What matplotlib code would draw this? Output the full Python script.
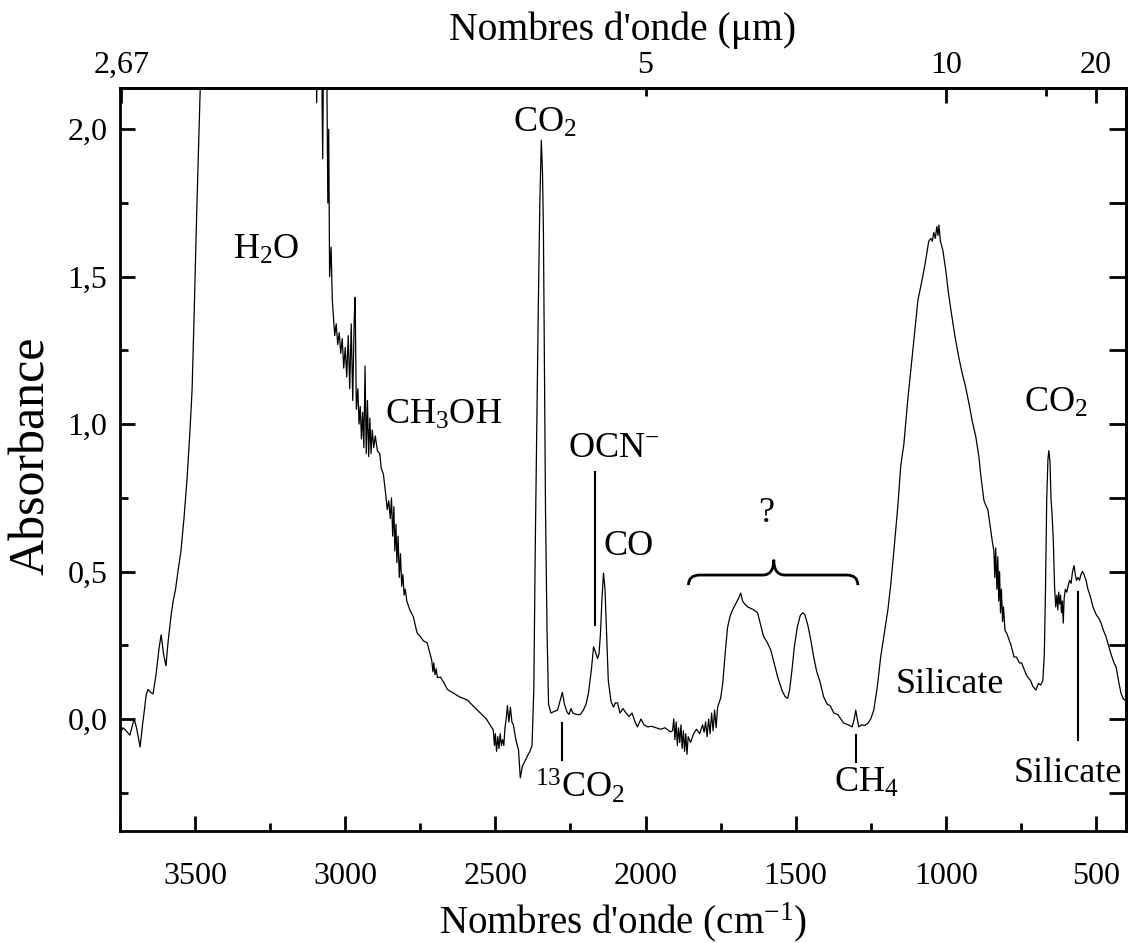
import numpy as np
import matplotlib
matplotlib.use("Agg")  # no display
import matplotlib.pyplot as plt
from matplotlib.path import Path
from matplotlib.patches import PathPatch
from matplotlib.ticker import MultipleLocator, FuncFormatter

plt.rcParams['font.family'] = 'Liberation Serif'
plt.rcParams['mathtext.default'] = 'regular'

# --- spectrum (cm-1, absorbance) ---
wavenumber = [
    3750, 3740, 3730, 3717, 3708, 3703, 3695, 3683, 3675, 3670, 3663, 3657, 3648, 3640, 3630, 3620,
    3613, 3605, 3597, 3590, 3580, 3573, 3565, 3557, 3547, 3537, 3527, 3518, 3510, 3503, 3495, 3483,
    3470, 3400, 3250, 3120, 3100, 3095, 3092, 3080, 3075, 3072, 3062, 3058, 3055, 3052, 3047, 3043,
    3040, 3035, 3030, 3025, 3020, 3015, 3010, 3005, 3000, 2995, 2990, 2985, 2980, 2975, 2970, 2967,
    2963, 2958, 2954, 2950, 2946, 2942, 2938, 2934, 2930, 2926, 2922, 2918, 2914, 2910, 2905, 2900,
    2893, 2885, 2880, 2873, 2865, 2860, 2855, 2850, 2846, 2842, 2838, 2835, 2831, 2828, 2824, 2820,
    2816, 2812, 2808, 2804, 2800, 2795, 2785, 2773, 2765, 2760, 2750, 2740, 2727, 2720, 2712, 2708,
    2705, 2701, 2697, 2693, 2683, 2670, 2660, 2640, 2620, 2593, 2570, 2550, 2530, 2515, 2507, 2503,
    2500, 2496, 2492, 2488, 2484, 2480, 2476, 2472, 2468, 2464, 2460, 2455, 2450, 2445, 2440, 2432,
    2423, 2417, 2410, 2400, 2393, 2385, 2378, 2372, 2367, 2362, 2357, 2352, 2347, 2343, 2340, 2337,
    2333, 2328, 2323, 2315, 2305, 2293, 2285, 2277, 2270, 2262, 2255, 2248, 2242, 2230, 2217, 2207,
    2198, 2190, 2180, 2173, 2166, 2160, 2155, 2150, 2145, 2140, 2135, 2130, 2124, 2115, 2107, 2100,
    2093, 2085, 2075, 2065, 2055, 2045, 2035, 2027, 2015, 2005, 1993, 1980, 1965, 1950, 1935, 1917,
    1910, 1906, 1902, 1898, 1894, 1890, 1886, 1882, 1878, 1874, 1870, 1866, 1862, 1858, 1850, 1840,
    1830, 1820, 1810, 1805, 1800, 1795, 1790, 1785, 1780, 1775, 1770, 1765, 1760, 1750, 1743, 1735,
    1727, 1718, 1710, 1700, 1690, 1683, 1677, 1670, 1660, 1650, 1640, 1627, 1617, 1607, 1595, 1583,
    1572, 1560, 1545, 1535, 1527, 1520, 1512, 1505, 1495, 1485, 1477, 1470, 1460, 1450, 1440, 1430,
    1420, 1407, 1395, 1385, 1373, 1360, 1350, 1340, 1325, 1312, 1305, 1300, 1295, 1290, 1280, 1270,
    1260, 1250, 1240, 1228, 1217, 1205, 1193, 1183, 1173, 1160, 1150, 1140, 1127, 1110, 1093, 1085,
    1077, 1068, 1057, 1050, 1045, 1040, 1035, 1030, 1026, 1023, 1018, 1010, 1000, 992, 983, 970,
    957, 945, 935, 923, 912, 900, 890, 883, 873, 865, 860, 852, 845, 840, 837, 834,
    830, 827, 824, 821, 818, 815, 811, 808, 803, 797, 790, 783, 773, 765, 755, 748,
    740, 732, 727, 718, 710, 700, 692, 684, 677, 672, 668, 664, 660, 657, 653, 650,
    646, 642, 638, 634, 630, 627, 624, 621, 618, 615, 612, 609, 606, 602, 597, 593,
    588, 583, 578, 573, 569, 565, 560, 555, 550, 545, 540, 533, 527, 520, 510, 500,
    490, 483, 475, 467, 457, 450, 440, 433, 425, 417, 410, 405, 400,
]
absorbance = [
    -0.05, -0.03, -0.04, -0.055, -0.02, 0.0, -0.03, -0.095, -0.02, 0.02, 0.08, 0.10, 0.09, 0.085, 0.15, 0.24,
    0.285, 0.22, 0.18, 0.26, 0.35, 0.40, 0.44, 0.50, 0.57, 0.68, 0.81, 0.96, 1.115, 1.376, 1.70, 2.14,
    2.60, 3.00, 3.20, 3.00, 2.40, 2.09, 2.35, 2.40, 1.90, 2.30, 2.30, 1.75, 2.00, 1.50, 1.60, 1.42,
    1.376, 1.30, 1.34, 1.27, 1.31, 1.24, 1.29, 1.19, 1.26, 1.16, 1.30, 1.12, 1.34, 1.08, 1.36, 1.43,
    1.05, 1.12, 1.00, 1.06, 0.95, 1.04, 0.92, 1.197, 0.90, 1.08, 0.89, 1.02, 0.90, 0.98, 0.92, 0.96,
    0.91, 0.90, 0.85, 0.83, 0.76, 0.71, 0.74, 0.68, 0.75, 0.62, 0.72, 0.57, 0.66, 0.53, 0.62, 0.48,
    0.56, 0.45, 0.49, 0.42, 0.44, 0.40, 0.37, 0.346, 0.31, 0.29, 0.28, 0.265, 0.258, 0.23, 0.20, 0.16,
    0.19, 0.15, 0.17, 0.14, 0.142, 0.12, 0.10, 0.088, 0.075, 0.064, 0.04, 0.02, 0.0, -0.025, -0.037, -0.09,
    -0.05, -0.11, -0.06, -0.10, -0.05, -0.09, -0.07, -0.09, -0.03, 0.0, 0.045, -0.01, 0.04, -0.01, -0.02, -0.07,
    -0.105, -0.20, -0.16, -0.14, -0.125, -0.11, -0.09, 0.10, 0.60, 1.00, 1.40, 1.75, 1.963, 1.85, 1.65, 1.25,
    0.70, 0.30, 0.05, 0.02, 0.025, 0.03, 0.06, 0.09, 0.05, 0.025, 0.015, 0.035, 0.02, 0.015, 0.015, 0.03,
    0.05, 0.088, 0.17, 0.245, 0.225, 0.205, 0.22, 0.29, 0.41, 0.495, 0.44, 0.30, 0.13, 0.06, 0.04, 0.055,
    0.054, 0.02, 0.035, 0.02, 0.008, 0.02, -0.01, -0.027, 0.0, -0.02, -0.027, -0.025, -0.03, -0.035, -0.03, -0.044,
    -0.04, 0.0, -0.07, -0.01, -0.09, -0.03, -0.08, -0.02, -0.10, -0.04, -0.11, -0.05, -0.12, -0.06, -0.08, -0.05,
    -0.035, -0.05, -0.02, -0.045, -0.01, -0.06, 0.0, -0.05, 0.02, -0.04, 0.03, -0.03, 0.04, 0.07, 0.12, 0.22,
    0.31, 0.35, 0.37, 0.39, 0.41, 0.427, 0.40, 0.39, 0.38, 0.375, 0.37, 0.36, 0.32, 0.28, 0.26, 0.234,
    0.19, 0.142, 0.095, 0.075, 0.07, 0.10, 0.17, 0.24, 0.31, 0.35, 0.36, 0.355, 0.32, 0.27, 0.21, 0.16,
    0.13, 0.075, 0.05, 0.045, 0.02, 0.015, 0.0, -0.014, -0.02, -0.027, 0.0, 0.03, 0.0, -0.027, -0.02, -0.022,
    -0.015, 0.0, 0.03, 0.11, 0.21, 0.29, 0.37, 0.46, 0.57, 0.72, 0.86, 0.93, 1.08, 1.25, 1.42, 1.46,
    1.50, 1.55, 1.62, 1.63, 1.62, 1.65, 1.63, 1.67, 1.64, 1.675, 1.62, 1.59, 1.52, 1.45, 1.386, 1.30,
    1.227, 1.17, 1.13, 1.07, 1.01, 0.956, 0.89, 0.82, 0.74, 0.72, 0.71, 0.65, 0.60, 0.57, 0.48, 0.58,
    0.44, 0.55, 0.40, 0.50, 0.36, 0.44, 0.33, 0.38, 0.30, 0.29, 0.27, 0.25, 0.21, 0.21, 0.19, 0.19,
    0.17, 0.15, 0.142, 0.13, 0.11, 0.098, 0.12, 0.115, 0.13, 0.22, 0.45, 0.75, 0.88, 0.91, 0.87, 0.75,
    0.69, 0.60, 0.45, 0.38, 0.42, 0.37, 0.43, 0.39, 0.42, 0.36, 0.40, 0.325, 0.41, 0.44, 0.43, 0.45,
    0.47, 0.46, 0.50, 0.52, 0.49, 0.47, 0.48, 0.47, 0.49, 0.50, 0.49, 0.47, 0.44, 0.42, 0.38, 0.355,
    0.34, 0.325, 0.30, 0.28, 0.244, 0.22, 0.19, 0.176, 0.13, 0.088, 0.07, 0.064, 0.07,
]

y_ticks = [0.0, 0.5, 1.0, 1.5, 2.0]
um_major = [2.67, 10, 20]
um_major_labels = ["2,67", "10", "20"]
um_minor = [5, 15]
um_minor_labels = ["5", ""]


def inv(x):
    x = np.asarray(x, dtype=float)
    with np.errstate(divide='ignore'):
        return 1e4 / x


fig = plt.figure(figsize=(11.31, 9.43), dpi=100)
ax = fig.add_axes([0.1061, 0.1188, 0.8895, 0.7879])
ax.plot(wavenumber, absorbance, color='black', lw=0.9)
ax.set_xlim(3750, 400)
ax.set_ylim(-0.38, 2.14)

# bottom / left axes
ax.xaxis.set_major_locator(MultipleLocator(500))
ax.xaxis.set_minor_locator(MultipleLocator(250))
ax.set_yticks(y_ticks)
ax.yaxis.set_minor_locator(MultipleLocator(0.25))
ax.yaxis.set_major_formatter(FuncFormatter(lambda v, p: f"{v:.1f}".replace('.', ',')))
ax.tick_params(which='both', direction='in', width=2, labelsize=23, top=False, right=False)
ax.tick_params(which='major', length=11)
ax.tick_params(which='minor', length=6)
ax.tick_params(axis='x', pad=22)
ax.tick_params(axis='y', pad=9)
for s in ax.spines.values():
    s.set_linewidth(2)

# right side ticks, no labels
right = ax.secondary_yaxis('right')
right.set_yticks(np.arange(-0.25, 2.01, 0.25))
right.tick_params(direction='in', length=12, width=2, labelright=False)
right.spines['right'].set_linewidth(2)

# top axis in micrometres
top = ax.secondary_xaxis('top', functions=(inv, inv))
top.set_xticks(um_major, labels=um_major_labels)
top.set_xticks(um_minor, labels=um_minor_labels, minor=True)
top.tick_params(which='both', direction='in', width=2, labelsize=23, pad=6)
top.tick_params(which='major', length=11)
top.tick_params(which='minor', length=6)
top.spines['top'].set_linewidth(2)

# axis titles
fig.text(0.028, 0.517, "Absorbance", rotation=90, ha='center', va='center', fontsize=36)
fig.text(0.5505, 0.0106, "Nombres d'onde (cm$^{-1}$)", ha='center', va='baseline', fontsize=28)
fig.text(0.5505, 0.9576, "Nombres d'onde (\u03bcm)", ha='center', va='baseline', fontsize=28.5)

# band labels
fs = 26
ax.text(3373, 1.56, "H$_2$O", fontsize=fs, ha='left', va='baseline')
ax.text(2867, 1.0, "CH$_3$OH", fontsize=fs, ha='left', va='baseline')
ax.text(2440, 1.99, "CO$_2$", fontsize=fs, ha='left', va='baseline')
ax.text(2257, 0.888, "OCN$^{-}$", fontsize=fs, ha='left', va='baseline')
ax.text(2140, 0.556, "CO", fontsize=fs, ha='left', va='baseline')
ax.text(2367, -0.268, "$^{13}$CO$_2$", fontsize=fs, ha='left', va='baseline')
ax.text(1597, 0.668, "?", fontsize=fs, ha='center', va='baseline')
ax.text(1373, -0.247, "CH$_4$", fontsize=fs, ha='left', va='baseline')
ax.text(1167, 0.088, "Silicate", fontsize=fs, ha='left', va='baseline')
ax.text(773, -0.213, "Silicate", fontsize=fs, ha='left', va='baseline')
ax.text(740, 1.04, "CO$_2$", fontsize=fs, ha='left', va='baseline')

# marker lines
ax.plot([2167, 2167], [0.837, 0.32], color='black', lw=1.5)
ax.plot([2277, 2277], [-0.014, -0.14], color='black', lw=1.5)
ax.plot([1300, 1300], [-0.054, -0.146], color='black', lw=1.5)
ax.plot([560, 560], [0.43, -0.07], color='black', lw=1.5)

# curly brace over the unidentified bands
verts = [(1857, 0.454), (1857, 0.488), (1820, 0.488), (1610, 0.488), (1573, 0.488), (1573, 0.54),
         (1573, 0.488), (1536, 0.488), (1330, 0.488), (1293, 0.488), (1293, 0.454)]
codes = [Path.MOVETO, Path.CURVE3, Path.CURVE3, Path.LINETO, Path.CURVE3, Path.CURVE3,
         Path.CURVE3, Path.CURVE3, Path.LINETO, Path.CURVE3, Path.CURVE3]
ax.add_patch(PathPatch(Path(verts, codes), facecolor='none', edgecolor='black', lw=2))

fig.savefig("out.png", dpi=100)
